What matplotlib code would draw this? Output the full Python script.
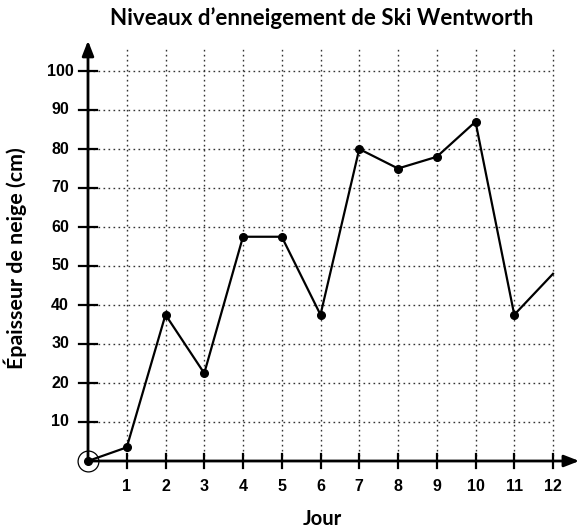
import numpy as np
import matplotlib.pyplot as plt

# Snow depth per day (cm)
jours = [0, 1, 2, 3, 4, 5, 6, 7, 8, 9, 10, 11, 12]
epaisseur = [0, 3.5, 37.5, 22.5, 57.5, 57.5, 37.5, 80, 75, 78, 87, 37.5, 48]
x_ticks = list(range(1, 13))
y_ticks = list(range(10, 101, 10))

W, H = 580, 531
fig = plt.figure(figsize=(W / 100, H / 100), dpi=100)
# axes box spans x 0..12, y 0..100 in pixel space
x0, x1, y0, y1 = 88, 553, 461, 71
ax = fig.add_axes([x0 / W, 1 - y0 / H, (x1 - x0) / W, (y0 - y1) / H])
ax.set_xlim(0, 12)
ax.set_ylim(0, 100)
ax.axis("off")

grid_kw = dict(color="#333333", linestyle=(0, (1.2, 2.4)), linewidth=1.0, clip_on=False, zorder=1)
for yv in y_ticks:
    ax.plot([0, 12], [yv, yv], **grid_kw)
for xv in x_ticks:
    ax.plot([xv, xv], [0, 106], **grid_kw)

# axes with arrow heads
arrow = dict(arrowstyle="-|>,head_length=0.9,head_width=0.35", color="black", lw=2)
ax.annotate("", xy=(12.75, 0), xytext=(0, 0), arrowprops=arrow,
            annotation_clip=False, zorder=3)
ax.annotate("", xy=(0, 108.5), xytext=(0, 0), arrowprops=arrow,
            annotation_clip=False, zorder=3)

# tick marks crossing the axes
for xv in x_ticks:
    ax.plot([xv, xv], [-1.9, 1.9], color="black", lw=1.6, clip_on=False, zorder=3)
for yv in y_ticks:
    ax.plot([-0.23, 0.23], [yv, yv], color="black", lw=1.6, clip_on=False, zorder=3)

tick_font = dict(family="Liberation Sans", weight="bold", fontsize=11.5)
for xv in x_ticks:
    ax.text(xv, -6.6, str(xv), ha="center", va="center", **tick_font)
for yv in y_ticks:
    ax.text(-0.72, yv, str(yv), ha="center", va="center", **tick_font)

# data line
ax.plot(jours, epaisseur, color="black", lw=1.6, clip_on=False, zorder=4)
ax.plot(jours[:-1], epaisseur[:-1], "o", color="black", ms=5.5, clip_on=False, zorder=5)
ax.plot([0], [0], "o", mfc="none", mec="black", mew=0.9, ms=15, clip_on=False, zorder=5)


def fit_text(x, y, s, width_px, size=12, **kw):
    # scale the font so the string spans the wanted width
    t = fig.text(x / W, 1 - y / H, s, ha="center", va="center",
                 family="Lato", weight="bold", fontsize=size, **kw)
    r = fig.canvas.get_renderer()
    bb = t.get_window_extent(r)
    span = bb.height if kw.get("rotation") == 90 else bb.width
    t.set_fontsize(size * width_px / span)
    return t


fit_text(322, 18, "Niveaux d\u2019enneigement de Ski Wentworth", 421)
fit_text(322, 519, "Jour", 39)
fit_text(15, 258, "\u00c9paisseur de neige (cm)", 220, rotation=90)

fig.savefig("out.png", dpi=100)
